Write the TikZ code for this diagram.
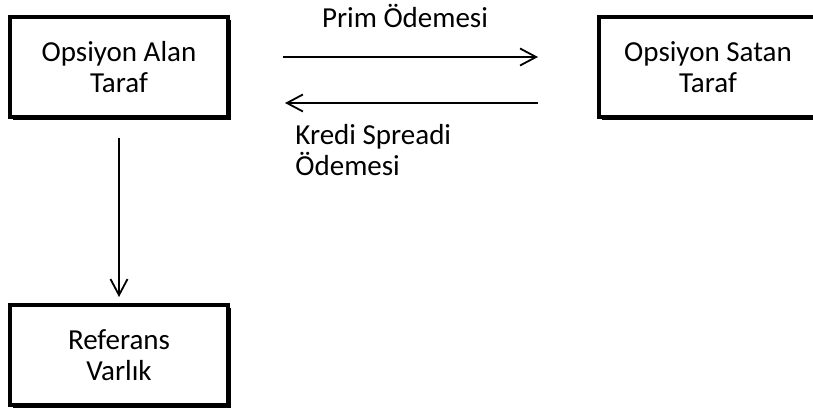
\documentclass[tikz,border=0pt]{standalone}
\usepackage{fontspec}
\setmainfont{Carlito}
\usetikzlibrary{arrows.meta,shadows}
\begin{document}
\begin{tikzpicture}[x=0.5pt, y=-0.5pt,
		box/.style={draw, fill=white, line width=2pt, minimum width=109pt, minimum height=50pt, inner sep=0pt, align=center,
			drop shadow={shadow xshift=1.5pt, shadow yshift=-1.5pt, fill=black, opacity=1}},
		arr/.style={-{Straight Barb[length=8pt, width=8.5pt]}, line width=.9pt},
		lbl/.style={inner sep=0pt}]
	\useasboundingbox (0,0) rectangle (813,412);
	\tikzset{every node/.append style={font=\fontsize{14.5}{15.5}\selectfont}}
	\node[box] at (119,67) (node1) {Opsiyon Alan\\Taraf};
	\node[box] at ([xshift = 294.5pt]node1) (node2) {Opsiyon Satan\\Taraf};
	\node[box] at ([yshift = -144pt]node1) (node3) {Referans\\Varlık};
	\draw[arr, shorten <=26.5pt, shorten >=29.5pt] ([yshift = 5pt]node1.east) -- ([yshift = 5pt]node2.west);
	\draw[arr, shorten <=29.5pt, shorten >=27.5pt] ([yshift = -18pt]node2.west) -- ([yshift = -18pt]node1.east);
	\draw[arr, shorten <=9.5pt, shorten >=3pt] (node1) -- (node3);
	\node[lbl, anchor=base] at (405,27) (prim) {Prim Ödemesi};
	\node[lbl, anchor=base west, align=left] at (295,175) (kredi) {Kredi Spreadi\\Ödemesi};
\end{tikzpicture}
\end{document}
